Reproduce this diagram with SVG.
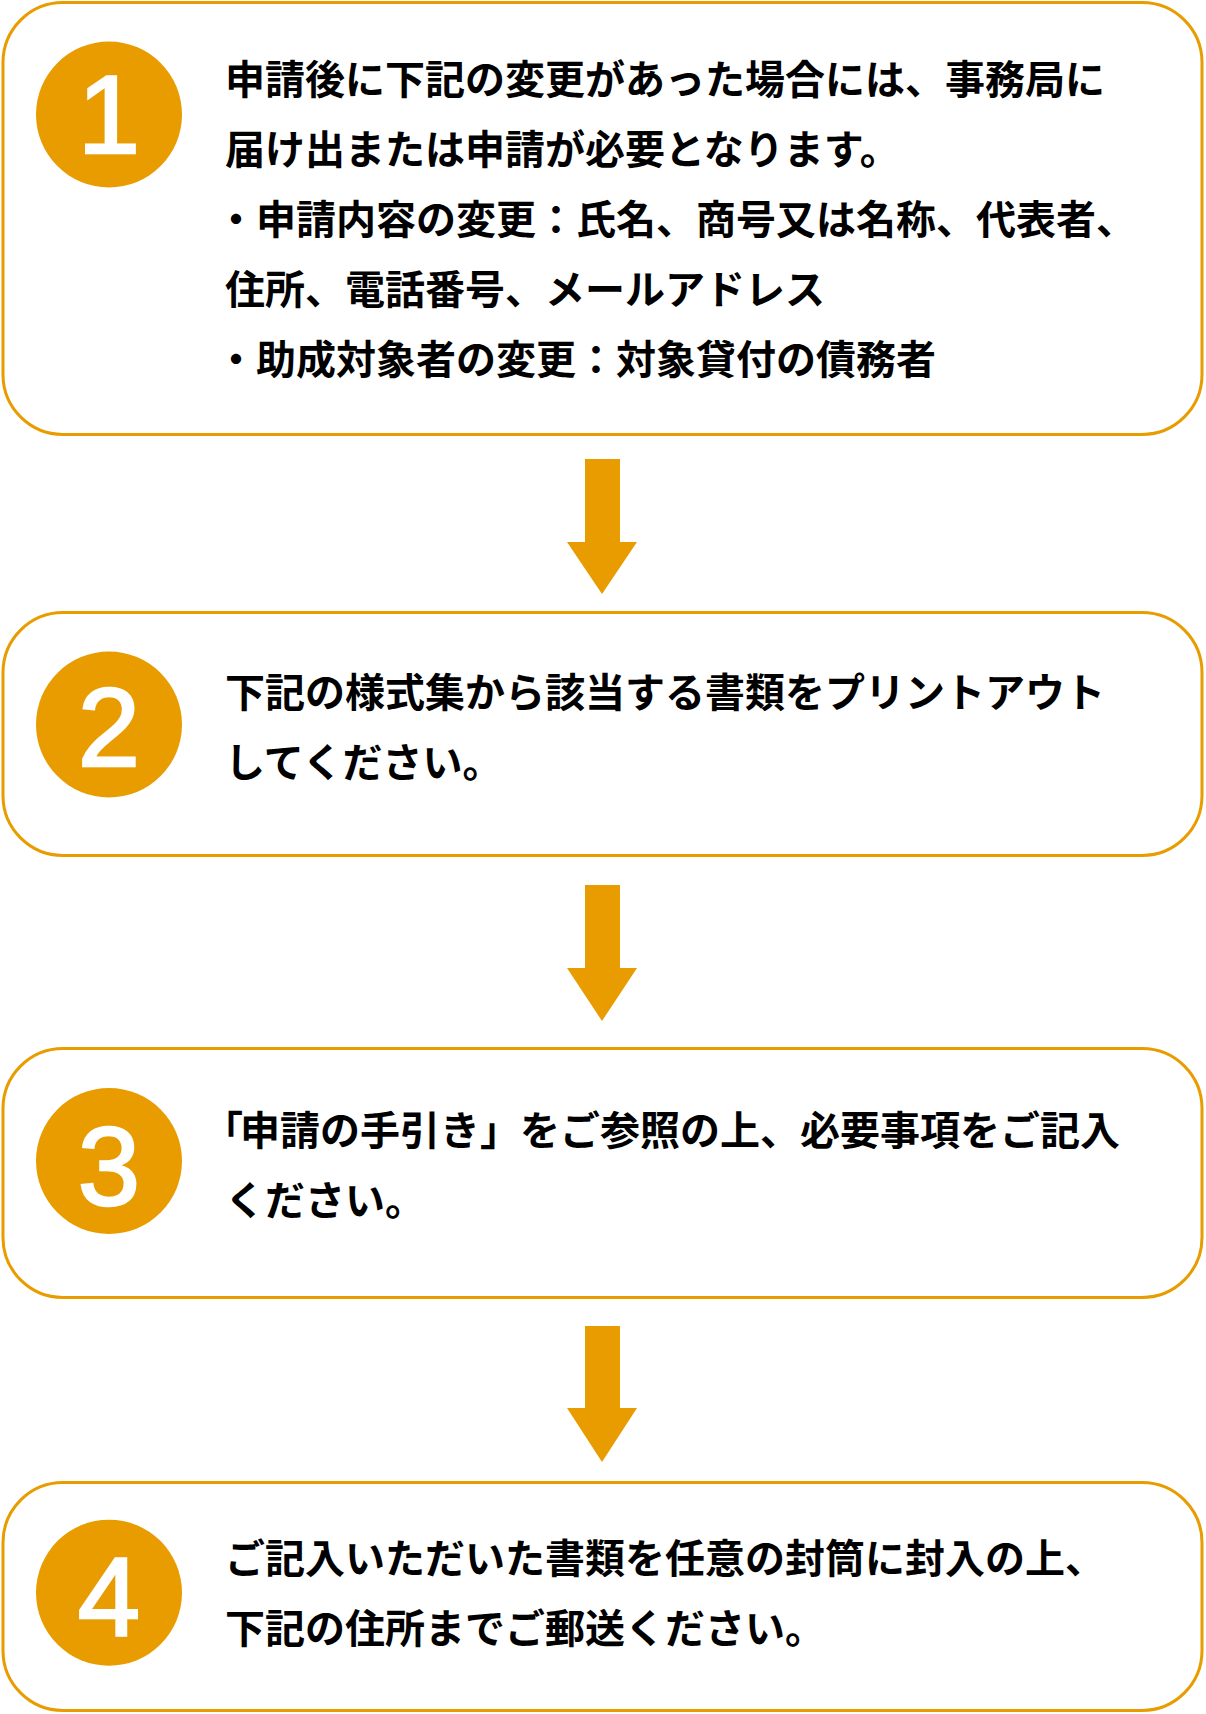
<svg xmlns="http://www.w3.org/2000/svg" width="1206" height="1714" viewBox="0 0 1206 1714">
<style>
.box{fill:#fff;stroke:#E89C00;stroke-width:3}
.badge{fill:#E89C00}
.num{font-family:"Liberation Sans",Arial,sans-serif;font-size:112px;fill:#fff;stroke:#fff;stroke-width:2.5;text-anchor:middle}
.t{font-family:"Noto Sans CJK JP","Noto Sans CJK SC",sans-serif;font-weight:700;font-size:40px;fill:#000}
.arrow{fill:#E89C00}
</style>
<rect width="1206" height="1714" fill="#fff"/>
<g id="step1">
<rect class="box" x="3" y="2.5" width="1199" height="432" rx="60" ry="60"/>
<circle class="badge" cx="109" cy="114.5" r="73"/>
<text class="num" x="109" y="153">1</text>
<text class="t" x="225" y="94">申請後に下記の変更があった場合には、事務局に</text>
<text class="t" x="225" y="164">届け出または申請が必要となります。</text>
<text class="t" x="216" y="234">・申請内容の変更：氏名、商号又は名称、代表者、</text>
<text class="t" x="225" y="304">住所、電話番号、メールアドレス</text>
<text class="t" x="216" y="374">・助成対象者の変更：対象貸付の債務者</text>
</g>
<g id="step2">
<rect class="box" x="3" y="612.5" width="1199" height="243" rx="60" ry="60"/>
<circle class="badge" cx="109" cy="724.5" r="73"/>
<text class="num" x="109" y="766">2</text>
<text class="t" x="225" y="707">下記の様式集から該当する書類をプリントアウト</text>
<text class="t" x="225" y="777">してください。</text>
</g>
<g id="step3">
<rect class="box" x="3" y="1048.5" width="1199" height="249" rx="60" ry="60"/>
<circle class="badge" cx="109" cy="1161" r="73"/>
<text class="num" x="109" y="1205">3</text>
<text class="t" x="203" y="1145">「<tspan dx="-3">申請の手引き」をご参照の上、必要事項をご記入</tspan></text>
<text class="t" x="225" y="1215">ください。</text>
</g>
<g id="step4">
<rect class="box" x="3" y="1482.5" width="1199" height="228" rx="60" ry="60"/>
<circle class="badge" cx="109" cy="1592.7" r="73"/>
<text class="num" x="109" y="1635">4</text>
<text class="t" x="225" y="1573">ご記入いただいた書類を任意の封筒に封入の上、</text>
<text class="t" x="225" y="1643">下記の住所までご郵送ください。</text>
</g>
<g id="connectors">
<polygon class="arrow" points="585,459 620,459 620,542 637,542 602,594 567,542 585,542"/>
<polygon class="arrow" points="585,885 620,885 620,968 637,968 602,1021 567,968 585,968"/>
<polygon class="arrow" points="585,1326 620,1326 620,1408 637,1408 602,1462 567,1408 585,1408"/>
</g>
</svg>
